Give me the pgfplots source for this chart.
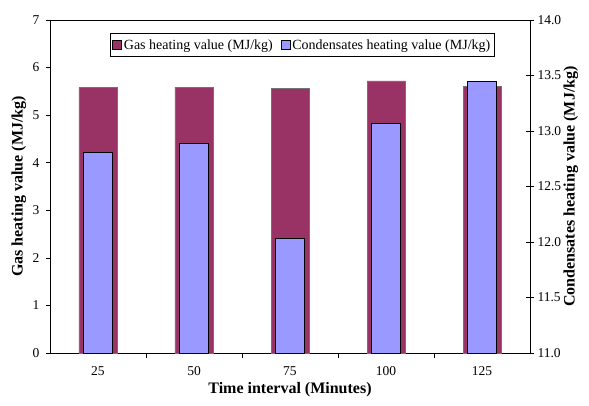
\documentclass[border=0pt]{standalone}
\usepackage{pgfplots}
\pgfplotsset{compat=1.18}
\usepackage{fontspec}
\setmainfont{Liberation Serif}
\definecolor{gasc}{HTML}{993366}
\definecolor{conc}{HTML}{9999FF}
\begin{document}
\begin{tikzpicture}[font=\fontsize{13.5}{15}\selectfont]
\begin{axis}[
  at={(0,0)}, anchor=south west,
  scale only axis, width=480pt, height=333pt,
  xmin=-0.5, xmax=4.5, ymin=0, ymax=7,
  ytick={0,...,7},
  xtick={0,...,4}, xticklabels={25,50,75,100,125},
  minor xtick={0.5,1.5,2.5,3.5},
  major x tick style={draw=none},
  tick pos=left, tick align=outside,
  major tick length=4pt, minor tick length=5pt,
  axis line style={line width=0.7pt},
  every tick/.style={black, line width=0.6pt},
  tick label style={font=\fontsize{13.5}{15}\selectfont},
  /pgf/number format/assume math mode=true,
  xticklabel style={yshift=-6pt},
  yticklabel style={xshift=-3pt},
  xlabel={\fontsize{16}{18}\selectfont\bfseries Time interval (Minutes)},
  ylabel={\fontsize{16}{18}\selectfont\bfseries Gas heating value (MJ/kg)},
  every axis x label/.style={at={(axis description cs:0.5,-0.111)}, anchor=center},
  every axis y label/.style={at={(axis description cs:-0.065,0.5)}, anchor=center, rotate=90},
]
\addplot[ybar, bar width=38pt, fill=gasc, draw=black!55, line width=0.6pt] coordinates {
  (0,5.58) (1,5.59) (2,5.56) (3,5.72) (4,5.61)};
\end{axis}
\begin{axis}[
  at={(0,0)}, anchor=south west,
  scale only axis, width=480pt, height=333pt,
  xmin=-0.5, xmax=4.5, ymin=11, ymax=14,
  axis y line*=right, axis x line=none,
  ytick={11,11.5,...,14},
  tick align=center, major tick length=8pt,
  axis line style={line width=0.7pt},
  every tick/.style={black, line width=0.6pt},
  tick label style={font=\fontsize{13.5}{15}\selectfont},
  /pgf/number format/assume math mode=true,
  yticklabel style={/pgf/number format/fixed, /pgf/number format/fixed zerofill, /pgf/number format/precision=1, xshift=0pt},
  ylabel={\fontsize{16}{18}\selectfont\bfseries Condensates heating value (MJ/kg)},
  every axis y label/.style={at={(axis description cs:1.085,0.5)}, anchor=center, rotate=90},
  legend style={at={(axis description cs:0.125,0.961)}, anchor=north west, draw=black, line width=0.6pt,
    font=\fontsize{14}{16}\selectfont, inner xsep=2pt, inner ysep=4pt,
    /tikz/every even column/.append style={column sep=6pt}},
  legend columns=2,
  legend cell align=left,
  legend image code/.code={\draw[#1, line width=0.6pt] (0pt,-4.5pt) rectangle (9pt,4.5pt);},
]
\addlegendimage{fill=gasc, draw=black}
\addlegendentry{Gas heating value (MJ/kg)}
\addplot[ybar, bar width=29pt, fill=conc, draw=black, line width=0.6pt] coordinates {
  (0,12.81) (1,12.89) (2,12.03) (3,13.07) (4,13.45)};
\addlegendentry{Condensates heating value (MJ/kg)}
\end{axis}
\pgfresetboundingbox
\path (-50pt,-52pt) rectangle (539pt,353pt);
\end{tikzpicture}
\end{document}
